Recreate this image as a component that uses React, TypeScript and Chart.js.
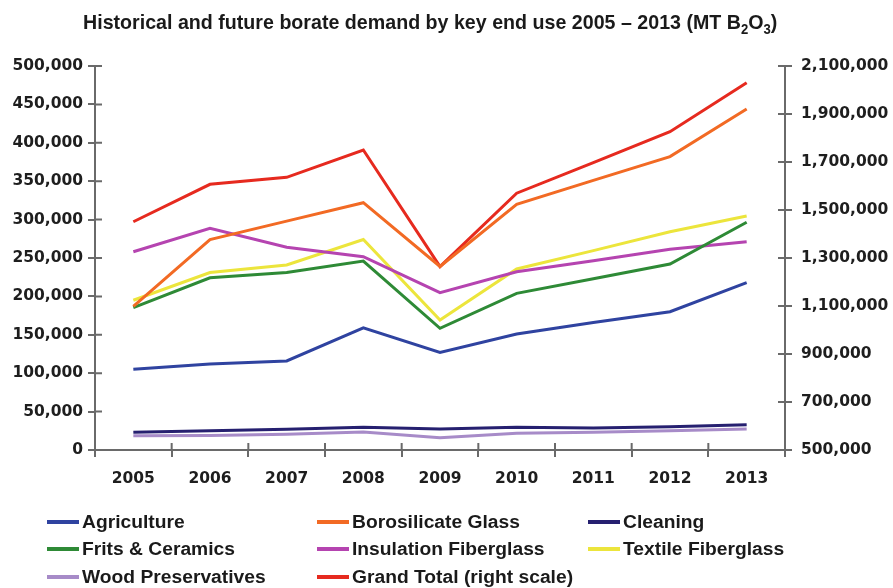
import React, { useEffect, useRef } from "react";
import { Chart, registerables } from "chart.js";

Chart.register(...registerables);

const years = ["2005", "2006", "2007", "2008", "2009", "2010", "2011", "2012", "2013"];
const agriculture = [105000, 112000, 116000, 159000, 127000, 151000, 166000, 180000, 218000];
const borosilicateGlass = [187000, 274000, 298000, 322000, 239000, 320000, 351000, 382000, 444000];
const cleaning = [23000, 25000, 27000, 29500, 27300, 29500, 28500, 30400, 33000];
const fritsCeramics = [185500, 224300, 231000, 246000, 158400, 204000, 223000, 242200, 296500];
const insulationFiberglass = [258200, 288700, 264000, 251700, 204800, 232000, 246500, 261300, 271200];
const textileFiberglass = [195000, 231000, 241000, 274000, 169300, 235700, 259600, 284200, 304700];
const woodPreservatives = [18600, 19000, 20400, 23400, 16000, 21700, 23000, 25100, 27300];
const grandTotal = [1451000, 1607000, 1636000, 1750000, 1264000, 1570000, 1697000, 1826000, 2030000];

const leftTicks = { min: 0, max: 500000, step: 50000 };
const rightTicks = { min: 500000, max: 2100000, step: 200000 };

const series = [
  { label: "Agriculture", data: agriculture, color: "#2f43a0", axis: "y" },
  { label: "Borosilicate Glass", data: borosilicateGlass, color: "#f26a24", axis: "y" },
  { label: "Cleaning", data: cleaning, color: "#262070", axis: "y" },
  { label: "Frits & Ceramics", data: fritsCeramics, color: "#2e8a36", axis: "y" },
  { label: "Insulation Fiberglass", data: insulationFiberglass, color: "#b544b0", axis: "y" },
  { label: "Textile Fiberglass", data: textileFiberglass, color: "#ece53c", axis: "y" },
  { label: "Wood Preservatives", data: woodPreservatives, color: "#a78bc8", axis: "y" },
  { label: "Grand Total (right scale)", data: grandTotal, color: "#e62a1f", axis: "y1" },
];

const AXIS = "#6a6a6a";
const TICK_FONT = { family: "'DejaVu Sans', sans-serif", size: 15.5, weight: "bold" as const };

const innerTicks = {
  id: "innerTicks",
  afterDraw(chart: any) {
    const { ctx, chartArea } = chart;
    const len = 7;
    ctx.save();
    ctx.strokeStyle = AXIS;
    ctx.lineWidth = 2;
    ctx.beginPath();
    const y = chart.scales.y;
    y.ticks.forEach((t: any) => {
      const p = y.getPixelForValue(t.value);
      ctx.moveTo(chartArea.left, p);
      ctx.lineTo(chartArea.left + len, p);
    });
    const y1 = chart.scales.y1;
    y1.ticks.forEach((t: any) => {
      const p = y1.getPixelForValue(t.value);
      ctx.moveTo(chartArea.right, p);
      ctx.lineTo(chartArea.right - len, p);
    });
    const n = years.length;
    const w = (chartArea.right - chartArea.left) / n;
    for (let i = 1; i < n; i++) {
      const x = chartArea.left + i * w;
      ctx.moveTo(x, chartArea.bottom);
      ctx.lineTo(x, chartArea.bottom - len);
    }
    ctx.stroke();
    ctx.restore();
  },
};

const legendCols = [47, 317, 588];
const legendRows = [522, 549, 577];

export default function App() {
  const ref = useRef<HTMLCanvasElement | null>(null);

  useEffect(() => {
    document.body.style.margin = "0";
    const canvas = ref.current;
    if (!canvas) return;
    const chart = new Chart(canvas, {
      type: "line",
      data: {
        labels: years,
        datasets: series.map((s) => ({
          label: s.label,
          data: s.data,
          borderColor: s.color,
          backgroundColor: s.color,
          borderWidth: 3,
          pointRadius: 0,
          tension: 0,
          yAxisID: s.axis,
        })),
      },
      options: {
        animation: false,
        responsive: false,
        layout: { padding: { top: 66, left: 0, right: 0, bottom: 0 } },
        plugins: {
          legend: { display: false },
          title: { display: false },
          tooltip: { enabled: false },
        },
        scales: {
          x: {
            offset: true,
            grid: { offset: true, drawOnChartArea: false, drawTicks: true, tickLength: 7, color: AXIS, lineWidth: 2 },
            border: { color: AXIS, width: 2 },
            ticks: { color: "#1e1e1e", font: TICK_FONT, padding: 13, maxRotation: 0 },
            afterFit: (s: any) => { s.height = 138; },
          },
          y: {
            position: "left",
            min: leftTicks.min,
            max: leftTicks.max,
            grid: { drawOnChartArea: false, drawTicks: true, tickLength: 7, color: AXIS, lineWidth: 2 },
            border: { color: AXIS, width: 2 },
            ticks: {
              stepSize: leftTicks.step,
              color: "#1e1e1e",
              font: TICK_FONT,
              padding: 5,
              callback: (v: any) => Number(v).toLocaleString("en-US"),
            },
            afterFit: (s: any) => { s.width = 95; },
          },
          y1: {
            position: "right",
            min: rightTicks.min,
            max: rightTicks.max,
            grid: { drawOnChartArea: false, drawTicks: true, tickLength: 7, color: AXIS, lineWidth: 2 },
            border: { color: AXIS, width: 2 },
            ticks: {
              stepSize: rightTicks.step,
              color: "#1e1e1e",
              font: TICK_FONT,
              padding: 9,
              callback: (v: any) => Number(v).toLocaleString("en-US"),
            },
            afterFit: (s: any) => { s.width = 108; },
          },
        },
      },
      plugins: [innerTicks],
    });
    return () => chart.destroy();
  }, []);

  const textFont = "'Liberation Sans', Arial, sans-serif";

  return (
    <div style={{ position: "relative", width: 893, height: 588, background: "#fff", overflow: "hidden" }}>
      <canvas ref={ref} width={893} height={588} style={{ position: "absolute", left: 0, top: 0, width: 893, height: 588 }} />
      <div
        style={{
          position: "absolute",
          left: 83,
          top: 9,
          fontFamily: textFont,
          fontWeight: "bold",
          fontSize: 21,
          color: "#1a1a1a",
          whiteSpace: "nowrap",
          transform: "scaleX(0.935)",
          transformOrigin: "left top",
          lineHeight: "25px",
        }}
      >
        Historical and future borate demand by key end use 2005 – 2013 (MT B<sub style={{ fontSize: 14 }}>2</sub>O<sub style={{ fontSize: 14 }}>3</sub>)
      </div>
      {series.map((s, i) => {
        const col = legendCols[i % 3];
        const row = legendRows[Math.floor(i / 3)];
        return (
          <div key={s.label} style={{ position: "absolute", left: col, top: row - 11, height: 22, display: "flex", alignItems: "center", whiteSpace: "nowrap" }}>
            <span style={{ display: "inline-block", width: 32, height: 4, background: s.color, marginRight: 3 }} />
            <span
              style={{
                fontFamily: textFont,
                fontWeight: "bold",
                fontSize: 17.5,
                color: "#1a1a1a",
                display: "inline-block",
                transform: "scaleX(1.1)",
                transformOrigin: "left center",
              }}
            >
              {s.label}
            </span>
          </div>
        );
      })}
    </div>
  );
}
